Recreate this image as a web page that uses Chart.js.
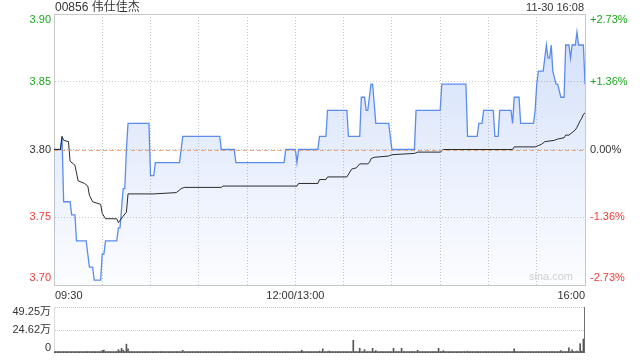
<!DOCTYPE html>
<html>
<head>
<meta charset="utf-8">
<script src="https://cdn.jsdelivr.net/npm/chart.js@4.4.0/dist/chart.umd.min.js"></script>
<style>
  body { margin: 0; background: #fff; }
  #wrap { position: relative; width: 640px; height: 360px; }
  canvas { position: absolute; left: 0; }
</style>
</head>
<body>
<div id="wrap">
  <canvas id="price" width="640" height="300" style="top:0"></canvas>
  <canvas id="vol" width="640" height="70" style="top:290px"></canvas>
</div>
<script>
// header
const title = '00856 伟仕佳杰';
const stamp = '11-30 16:08';

// minutes from 09:30 (lunch break removed), 330 = 16:00
const prevClose = 3.80;
const pctRange = 2.73;
const leftTickLabels = ['3.90', '3.85', '3.80', '3.75', '3.70'];
const rightTickLabels = ['+2.73%', '+1.36%', '0.00%', '-1.36%', '-2.73%'];
const tickPct = [2.73, 1.365, 0, -1.365, -2.73];
const timeTicks = [0, 150, 330];
const timeLabels = ['09:30', '12:00/13:00', '16:00'];
const gridTimes = [30, 60, 90, 120, 150, 180, 210, 240, 270, 300];

// last price, only at the minutes where it moves
const priceTimes = [0, 4, 5, 6, 10, 11, 13, 14, 20, 21, 22, 24, 25, 29, 30, 31, 32, 39, 40, 41, 43, 44, 45, 46,
  59, 60, 62, 63, 78, 79, 80, 103, 104, 112, 113, 143, 144, 150, 151, 152, 164, 165, 169, 170,
  182, 183, 190, 191, 193, 194, 195, 197, 198, 200, 208, 209, 210, 224, 225, 240, 241,
  256, 257, 263, 264, 266, 267, 273, 274, 276, 277, 284, 285, 286, 289, 290, 298, 299, 300, 301,
  304, 305, 306, 307, 308, 309, 310, 312, 313, 315, 317, 318, 320, 321, 322, 324, 325, 326, 329, 330];
const prices = [3.80, 3.80, 3.81, 3.76, 3.76, 3.75, 3.75, 3.73, 3.73, 3.72, 3.71, 3.71, 3.70, 3.70, 3.72, 3.72, 3.73, 3.73, 3.74, 3.74, 3.77, 3.77, 3.80, 3.82,
  3.82, 3.78, 3.78, 3.79, 3.79, 3.80, 3.81, 3.81, 3.80, 3.80, 3.79, 3.79, 3.80, 3.80, 3.79, 3.80, 3.80, 3.81, 3.81, 3.83,
  3.83, 3.81, 3.81, 3.84, 3.84, 3.83, 3.83, 3.85, 3.85, 3.82, 3.82, 3.81, 3.80, 3.80, 3.83, 3.83, 3.85,
  3.85, 3.81, 3.81, 3.82, 3.82, 3.83, 3.83, 3.81, 3.81, 3.83, 3.83, 3.82, 3.84, 3.84, 3.82, 3.82, 3.83, 3.85, 3.86,
  3.86, 3.87, 3.88, 3.87, 3.87, 3.88, 3.86, 3.85, 3.85, 3.84, 3.84, 3.88, 3.88, 3.87, 3.88, 3.88, 3.89, 3.88, 3.88, 3.85];

// average price line
const avgTimes = [0, 4, 5, 6, 9, 10, 12, 13, 15, 19, 21, 22, 24, 29, 30, 32, 39, 40, 43, 45, 46, 62, 76, 79, 81,
  104, 105, 151, 152, 164, 165, 169, 170, 182, 185, 188, 190, 195, 196, 197, 199, 208, 210, 224, 226, 240, 242,
  285, 286, 299, 301, 303, 305, 311, 313, 317, 318, 320, 322, 324, 325, 327, 328, 329, 330];
const avgPrices = [3.800, 3.800, 3.810, 3.807, 3.806, 3.791, 3.789, 3.788, 3.776, 3.774, 3.772, 3.765, 3.760, 3.758, 3.751, 3.747, 3.747, 3.744, 3.749, 3.752, 3.766, 3.766, 3.767, 3.770, 3.771,
  3.771, 3.772, 3.772, 3.774, 3.774, 3.777, 3.777, 3.779, 3.779, 3.785, 3.786, 3.789, 3.789, 3.790, 3.793, 3.794, 3.795, 3.796, 3.797, 3.798, 3.798, 3.800,
  3.800, 3.802, 3.802, 3.803, 3.804, 3.806, 3.807, 3.808, 3.809, 3.811, 3.811, 3.813, 3.815, 3.817, 3.822, 3.824, 3.827, 3.828];

// volume per minute, unit 万 (last one is the closing auction)
const volume = [
  1.5,1.0,0.6,0.8,0.5,1.2,1.0,0.6,0.5,0.7,0.6,0.4,0.5,0.9,0.6,0.4,0.5,0.7,0.4,0.6,0.5,0.8,0.4,0.6,0.5,0.4,0.7,0.5,0.6,0.9,
  2.6,3.0,1.2,0.8,0.6,0.5,0.4,1.0,0.8,1.5,3.5,2.0,5.0,3.0,1.5,9.5,4.5,1.0,0.6,0.5,0.4,0.3,0.5,0.4,0.3,0.5,0.4,0.3,0.6,0.4,
  1.0,0.8,0.5,0.6,0.4,0.3,0.5,0.4,0.3,0.4,0.5,0.3,0.4,0.3,0.5,0.4,0.3,0.6,0.8,1.2,2.8,0.6,0.4,0.3,0.5,0.4,0.3,0.5,0.4,0.3,
  0.4,0.3,0.5,0.4,0.3,0.5,0.4,0.3,0.5,0.4,0.3,0.4,0.5,1.0,0.8,0.4,0.3,0.5,0.4,0.3,0.4,0.5,0.6,0.8,0.4,0.3,0.5,0.4,0.3,0.4,
  0.5,0.3,0.4,0.3,0.5,0.4,0.3,0.4,0.5,0.3,0.4,0.3,0.5,0.4,0.3,0.4,0.5,0.3,0.4,0.3,0.5,0.4,0.3,0.4,0.6,0.8,0.4,0.3,0.5,0.6,
  0.6,0.9,0.4,0.8,3.0,0.5,0.4,0.3,0.5,0.4,0.3,0.5,0.4,0.6,1.2,2.0,0.8,4.5,0.6,0.5,0.4,2.0,0.5,0.4,0.3,0.5,0.4,0.3,0.6,0.4,
  0.5,0.8,1.0,0.6,0.5,0.4,13.6,0.8,1.0,0.6,5.0,0.8,0.6,3.5,0.5,0.4,0.6,1.0,5.0,0.8,2.5,0.5,0.4,0.6,0.5,0.4,0.3,0.5,0.4,0.6,
  0.8,5.0,0.6,0.5,0.4,0.8,5.0,0.6,0.5,0.4,0.3,0.5,0.4,0.6,0.5,0.4,3.0,0.6,0.5,0.4,0.3,0.5,0.4,0.6,0.5,0.4,0.3,0.5,0.8,5.0,
  0.6,0.5,2.5,0.4,0.3,0.5,0.4,0.3,0.5,0.4,0.6,0.5,0.4,0.3,0.5,0.4,0.6,2.0,0.5,0.4,0.3,0.5,0.4,0.6,0.5,0.4,0.3,0.5,0.4,0.6,
  0.5,0.4,0.3,0.5,0.4,0.6,0.5,0.4,0.3,0.5,0.4,0.6,0.5,0.4,0.3,0.5,4.5,0.6,0.5,0.4,0.3,0.5,0.4,0.6,0.5,0.4,0.3,0.5,0.4,0.8,
  1.0,0.8,1.2,0.6,0.5,0.8,1.0,0.6,0.5,0.8,0.6,0.5,0.4,0.8,0.6,2.5,0.5,0.8,0.6,1.0,5.5,0.8,3.5,0.6,1.0,2.0,1.5,10.0,2.0,15.0,
  49.25
];
const volMax = 49.25;
const volTicks = [0, 24.62, 49.25];
const volLabels = ['0', '24.62万', '49.25万'];

const FONT = '"Liberation Sans", Arial, "Noto Sans CJK SC", sans-serif';
const GREEN = '#1ea51e';
const RED = '#f23a3a';
const TEXT = '#333';
const GRID = '#c8c8c8';

const yMin = prevClose * (1 - pctRange / 100);
const yMax = prevClose * (1 + pctRange / 100);
const tickValues = tickPct.map(p => prevClose * (1 + p / 100));

function labelColor(p) {
  if (p > 0) return GREEN;
  if (p < 0) return RED;
  return TEXT;
}

const priceLabels = {
  id: 'priceLabels',
  afterDatasetsDraw(chart) {
    const { ctx, chartArea: a, scales: { y } } = chart;
    const py = Math.round(y.getPixelForValue(prevClose)) + 0.5;
    ctx.save();
    ctx.strokeStyle = 'rgba(236,150,100,0.85)';
    ctx.lineWidth = 1;
    ctx.setLineDash([4, 3]);
    ctx.beginPath();
    ctx.moveTo(a.left, py);
    ctx.lineTo(a.right, py);
    ctx.stroke();
    ctx.restore();
  },
  afterDraw(chart) {
    const { ctx, chartArea: a, scales: { x, y } } = chart;
    ctx.save();
    ctx.textBaseline = 'middle';
    ctx.font = '12px ' + FONT;
    ctx.fillStyle = TEXT;
    ctx.textAlign = 'left';
    ctx.fillText(title, a.left + 1, 8);
    ctx.font = '11px ' + FONT;
    ctx.textAlign = 'right';
    ctx.fillText(stamp, a.right - 1, 8);

    tickValues.forEach((v, i) => {
      let py = y.getPixelForValue(v);
      py = Math.min(Math.max(py, a.top + 6), a.bottom - 7);
      ctx.fillStyle = labelColor(tickPct[i]);
      ctx.textAlign = 'right';
      ctx.fillText(leftTickLabels[i], a.left - 3, py);
      ctx.textAlign = 'left';
      ctx.fillText(rightTickLabels[i], a.right + 5, py);
    });

    ctx.fillStyle = TEXT;
    timeTicks.forEach((t, i) => {
      ctx.textAlign = i === 0 ? 'left' : (i === timeTicks.length - 1 ? 'right' : 'center');
      ctx.fillText(timeLabels[i], x.getPixelForValue(t) + (i === 0 ? 1 : 0), a.bottom + 11);
    });

    ctx.fillStyle = '#d0d0d0';
    ctx.textAlign = 'right';
    ctx.fillText('sina.com', a.right - 12, a.bottom - 8);
    ctx.restore();
  }
};

const priceChart = new Chart(document.getElementById('price'), {
  type: 'line',
  data: {
    datasets: [
      {
        data: avgTimes.map((t, i) => ({ x: t, y: avgPrices[i] })),
        borderColor: '#2b2b2b',
        borderWidth: 1,
        pointRadius: 0,
        fill: false,
        tension: 0
      },
      {
        data: priceTimes.map((t, i) => ({ x: t, y: prices[i] })),
        borderColor: '#5a8cf0',
        borderWidth: 1.3,
        pointRadius: 0,
        tension: 0,
        fill: 'start',
        backgroundColor(c) {
          const a = c.chart.chartArea;
          if (!a) return 'rgba(80,130,235,0.15)';
          const g = c.chart.ctx.createLinearGradient(0, a.top, 0, a.bottom);
          g.addColorStop(0, 'rgba(80,130,235,0.26)');
          g.addColorStop(1, 'rgba(80,130,235,0.02)');
          return g;
        }
      }
    ]
  },
  options: {
    responsive: false,
    animation: false,
    events: [],
    layout: { padding: { left: 54, right: 55, top: 14, bottom: 15 } },
    plugins: { legend: { display: false }, tooltip: { enabled: false } },
    scales: {
      x: {
        type: 'linear', min: 0, max: 330,
        afterBuildTicks(s) { s.ticks = gridTimes.map(v => ({ value: v })); },
        afterFit(s) { s.height = 0; },
        ticks: { display: false },
        grid: { color: GRID, drawTicks: false },
        border: { color: GRID, dash: [1, 2] }
      },
      xt: {
        type: 'linear', position: 'top', min: 0, max: 330,
        afterFit(s) { s.height = 0; },
        ticks: { display: false },
        grid: { display: false },
        border: { color: GRID }
      },
      y: {
        min: yMin, max: yMax,
        afterBuildTicks(s) { s.ticks = tickValues.slice(1, 4).map(v => ({ value: v })); },
        afterFit(s) { s.width = 0; },
        ticks: { display: false },
        grid: { color: GRID, drawTicks: false },
        border: { color: GRID, dash: [1, 2] }
      },
      yr: {
        position: 'right', min: yMin, max: yMax,
        afterFit(s) { s.width = 0; },
        ticks: { display: false },
        grid: { display: false },
        border: { color: GRID }
      }
    }
  },
  plugins: [priceLabels]
});

const volLabelsPlugin = {
  id: 'volLabels',
  afterDraw(chart) {
    const { ctx, chartArea: a, scales: { y } } = chart;
    ctx.save();
    ctx.font = '11px ' + FONT;
    ctx.fillStyle = TEXT;
    ctx.textAlign = 'right';
    ctx.textBaseline = 'middle';
    volTicks.forEach((v, i) => {
      let py = y.getPixelForValue(v);
      py = Math.min(Math.max(py, a.top + 5), a.bottom - 5);
      ctx.fillText(volLabels[i], a.left - 3, py);
    });
    ctx.restore();
  }
};

const volChart = new Chart(document.getElementById('vol'), {
  type: 'bar',
  data: {
    labels: volume.map((v, i) => i),
    datasets: [{
      data: volume,
      backgroundColor: '#555',
      barThickness: 1,
      minBarLength: 1.5
    }]
  },
  options: {
    responsive: false,
    animation: false,
    events: [],
    layout: { padding: { left: 54, right: 55, top: 17, bottom: 7 } },
    plugins: { legend: { display: false }, tooltip: { enabled: false } },
    scales: {
      x: {
        type: 'category',
        offset: false,
        afterFit(s) { s.height = 0; },
        ticks: { display: false },
        grid: { display: false },
        border: { display: false }
      },
      y: {
        min: 0, max: volMax,
        afterBuildTicks(s) { s.ticks = volTicks.slice(1).map(v => ({ value: v })); },
        afterFit(s) { s.width = 0; },
        ticks: { display: false },
        grid: { color: GRID, drawTicks: false },
        border: { color: '#dcdcdc', dash: [1, 1] }
      }
    }
  },
  plugins: [volLabelsPlugin]
});
</script>
</body>
</html>
